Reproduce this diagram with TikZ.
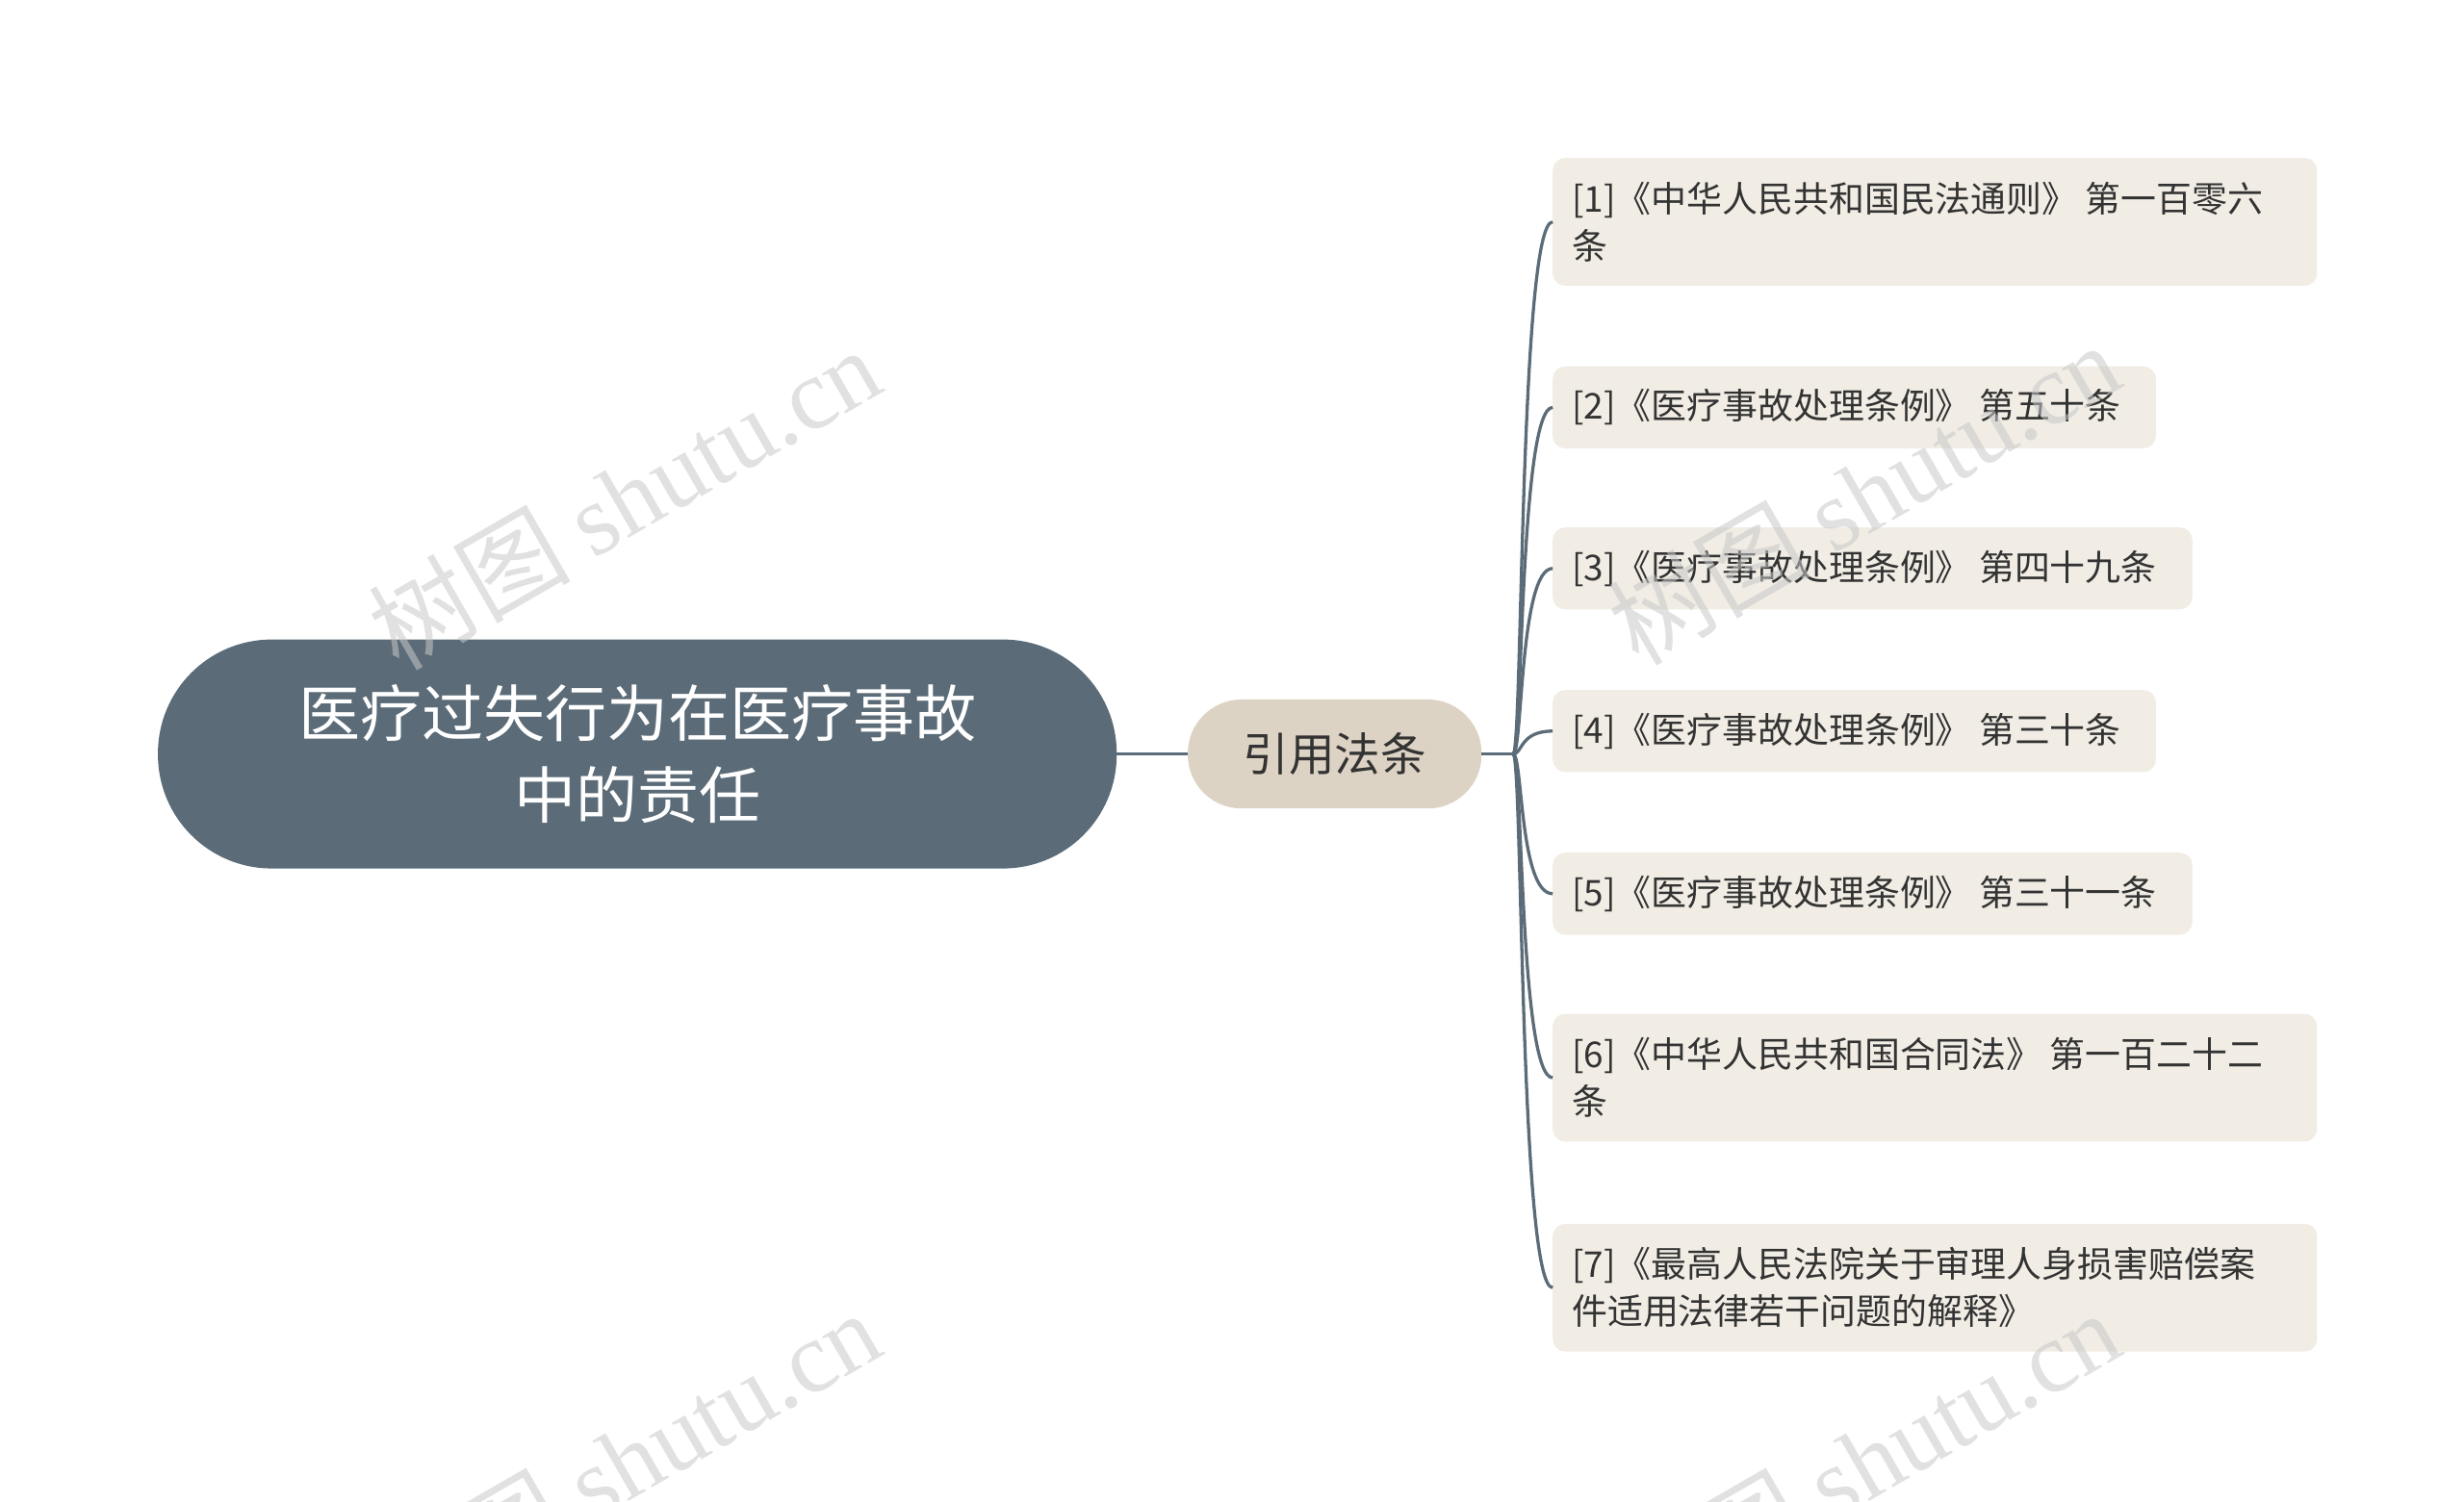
\documentclass[tikz,border=0pt]{standalone}
\usepackage{fontspec}
\setmainfont{Noto Sans CJK SC}
\newfontfamily\wmserif{Liberation Serif}
\definecolor{rootc}{HTML}{5B6C78}
\definecolor{midc}{HTML}{DDD3C4}
\definecolor{leafc}{HTML}{F1EDE5}
\definecolor{txt}{HTML}{333333}
\definecolor{wm}{HTML}{C8C8C8}
\begin{document}
\begin{tikzpicture}[x=1pt,y=-1pt,
  leaf/.style={anchor=west,align=left,inner xsep=12pt,inner ysep=0pt,
    font=\fontsize{22.5}{30}\selectfont,text=txt},
  link/.style={draw=rootc,line width=2pt}]
\useasboundingbox (0,0) rectangle (1560,951);
\draw[fill=rootc,draw=none,rounded corners=72pt] (100,405) rectangle (707,550);
\node[text=white,align=center,font=\fontsize{39}{52}\selectfont] (root) at (403.5,477.5) {医疗过失行为在医疗事故\\中的责任};
\coordinate (rootE) at (707,477.5);
\draw[fill=midc,draw=none,rounded corners=34pt] (752,443) rectangle (938,512);
\node[text=txt,font=\fontsize{29}{34}\selectfont] (mid) at (845,477.5) {引用法条};
\coordinate (midW) at (752,477.5);
\coordinate (midE) at (938,477.5);
\coordinate (hub) at (958,477.5);
\draw[link] (rootE) -- (midW);
\draw[link] (midE) -- (hub);
\foreach \i/\t/\b/\r/\txt in {
 1/100/181/1467/{[1]《中华人民共和国民法通则》 第一百零六\\条},
 2/232/284/1365/{[2]《医疗事故处理条例》 第五十条},
 3/334/386/1388/{[3]《医疗事故处理条例》 第四十九条},
 4/437/489/1365/{[4]《医疗事故处理条例》 第三十条},
 5/540/592/1388/{[5]《医疗事故处理条例》 第三十一条},
 6/642/723/1467/{[6]《中华人民共和国合同法》 第一百二十二\\条},
 7/775/856/1467/{[7]《最高人民法院关于审理人身损害赔偿案\\件适用法律若干问题的解释》}}{
  \fill[leafc,rounded corners=8pt] (983,\t) rectangle (\r,\b);
  \node[leaf] (L\i) at (983,{(\t+\b)/2}) {\txt};
  \coordinate (E\i) at (983,{(\t+\b)/2});
  \draw[link] (hub) .. controls (964,477.5) and (962,{(\t+\b)/2}) .. (E\i);
}
\begin{scope}
\clip (0,0) rectangle (1560,951);
\foreach \x/\y in {395/315,1180/312,395/925,1180/925}
  \node[text=wm,text opacity=0.55,rotate=30,font=\fontsize{64}{66}\selectfont] (w\x\y) at (\x,\y) {树图 {\wmserif shutu.cn}};
\end{scope}
\end{tikzpicture}
\end{document}
